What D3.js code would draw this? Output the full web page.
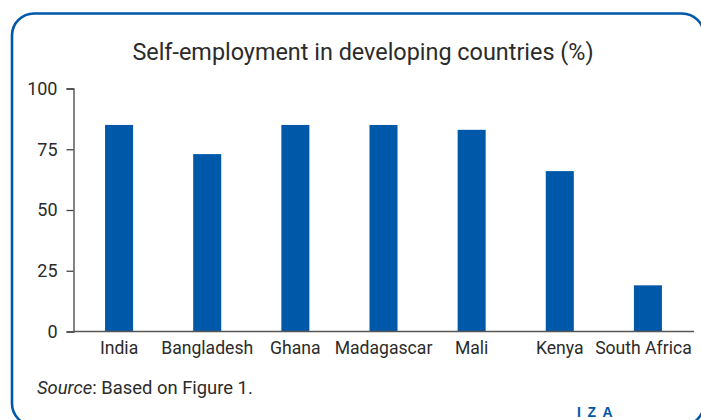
<!DOCTYPE html>
<html>
<head>
<meta charset="utf-8">
<script src="https://cdn.jsdelivr.net/npm/d3@7"></script>
<style>
  html, body { margin: 0; padding: 0; background: #fff; }
  svg { display: block; }
</style>
</head>
<body>
<svg id="chart" width="701" height="420"></svg>
<script>
const categories = ["India", "Bangladesh", "Ghana", "Madagascar", "Mali", "Kenya", "South Africa"];
const values = [85, 73, 85, 85, 83, 66, 19];
const yTicks = [0, 25, 50, 75, 100];
const title = "Self-employment in developing countries (%)";

const svg = d3.select("#chart");
const blue = "#0058A8";
const textColor = "#2b2b2b";
const font = "Roboto, 'Liberation Sans', sans-serif";

// frame
svg.append("rect")
  .attr("x", 12).attr("y", 13.5)
  .attr("width", 692).attr("height", 412)
  .attr("rx", 22).attr("ry", 22)
  .attr("fill", "none").attr("stroke", blue).attr("stroke-width", 2.6);

svg.append("text")
  .attr("x", 363).attr("y", 59.5)
  .attr("text-anchor", "middle")
  .attr("font-family", font).attr("font-size", 23.4)
  .attr("fill", textColor)
  .text(title);

const x = d3.scaleBand().domain(categories).range([75, 692])
  .paddingInner(0.682).paddingOuter(0.341);
const y = d3.scaleLinear().domain([0, 100]).range([331.5, 88.5]);

svg.selectAll("rect.bar").data(categories).enter().append("rect")
  .attr("class", "bar")
  .attr("x", d => x(d))
  .attr("width", x.bandwidth())
  .attr("y", (d, i) => y(values[i]))
  .attr("height", (d, i) => y(0) - y(values[i]))
  .attr("fill", blue);

// y axis
const yAxis = svg.append("g").attr("transform", "translate(73.5,0)")
  .call(d3.axisLeft(y).tickValues(yTicks).tickSize(7).tickPadding(9));
yAxis.select(".domain").attr("stroke", "#444").attr("stroke-width", 1.3);
yAxis.selectAll(".tick line").attr("stroke", "#444").attr("stroke-width", 1.3);
yAxis.selectAll(".tick text").attr("font-family", font).attr("font-size", 18).attr("fill", textColor);

// x axis
const xAxis = svg.append("g").attr("transform", `translate(0,${y(0)})`)
  .call(d3.axisBottom(x).tickSize(0).tickPadding(10));
xAxis.select(".domain").attr("stroke", "#555").attr("stroke-width", 1.3)
  .attr("d", "M73.5,0H694");
xAxis.selectAll(".tick text").attr("font-family", font).attr("font-size", 17.6).attr("fill", textColor)
  .attr("dx", (d, i) => i === categories.length - 1 ? -4.5 : 0);

// source
const src = svg.append("text").attr("x", 37).attr("y", 394)
  .attr("font-family", font).attr("font-size", 18.4).attr("fill", textColor);
src.append("tspan").attr("font-style", "italic").text("Source");
src.append("tspan").text(": Based on Figure 1.");

// IZA logo
svg.append("text").attr("x", 577).attr("y", 417)
  .attr("font-family", "'Liberation Sans', Arial, sans-serif")
  .attr("font-size", 14).attr("font-weight", "bold")
  .attr("letter-spacing", 6.5)
  .attr("fill", blue)
  .text("IZA");
</script>
</body>
</html>
